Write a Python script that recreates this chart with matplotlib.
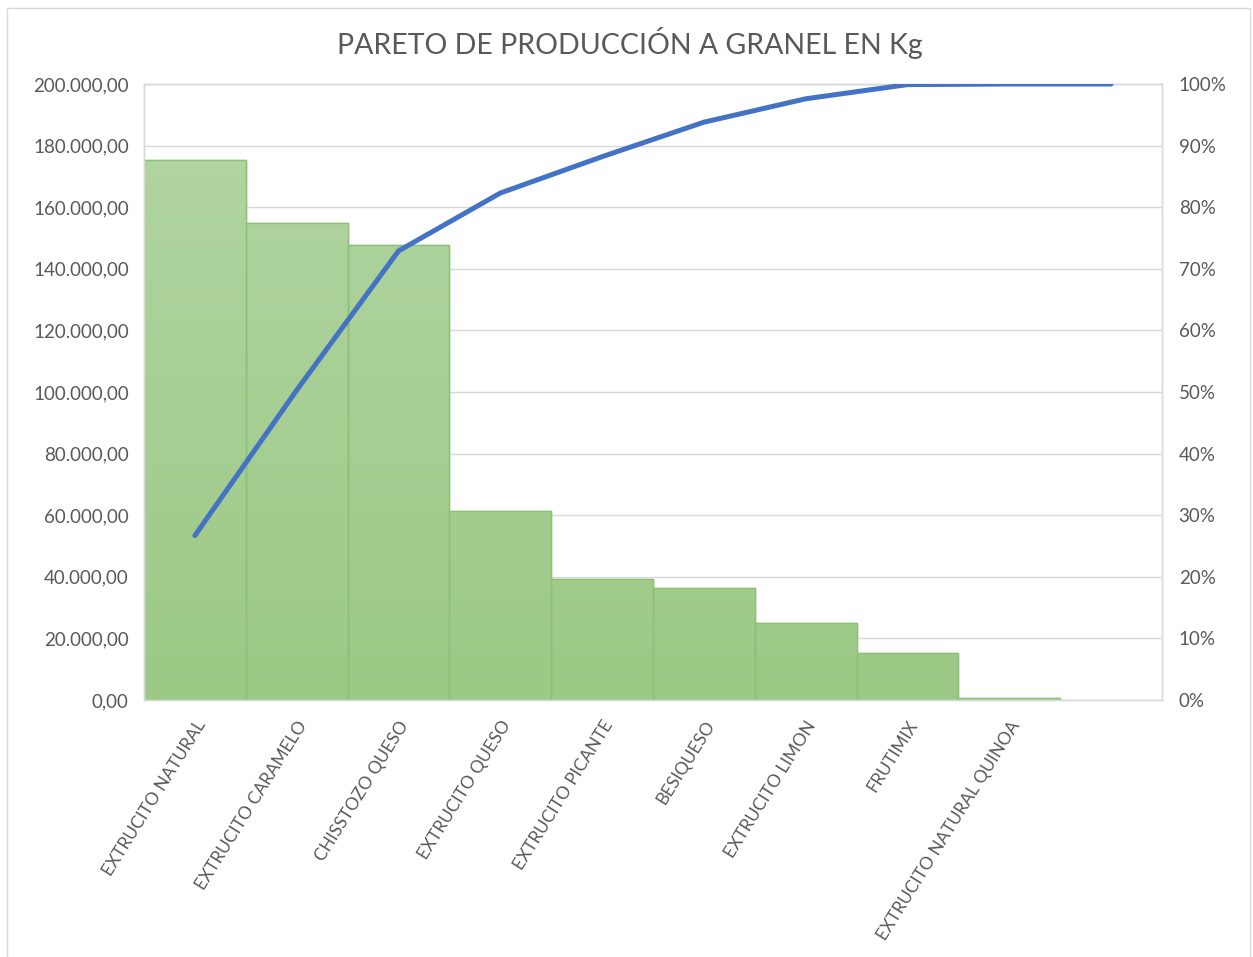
import numpy as np
import matplotlib
matplotlib.use("Agg")
import matplotlib.pyplot as plt
from matplotlib.patches import Rectangle
from matplotlib.ticker import FuncFormatter, MultipleLocator
from matplotlib.colors import LinearSegmentedColormap

categories = ["EXTRUCITO NATURAL", "EXTRUCITO CARAMELO", "CHISSTOZO QUESO",
              "EXTRUCITO QUESO", "EXTRUCITO PICANTE", "BESIQUESO",
              "EXTRUCITO LIMON", "FRUTIMIX", "EXTRUCITO NATURAL QUINOA", ""]
kg_values = [175300, 154900, 147700, 61400, 39300, 36400, 25000, 15300, 700]
cum_pct = [26.7, 50.3, 72.9, 82.3, 88.2, 93.8, 97.6, 99.9, 100.0, 100.0]

plt.rcParams['font.family'] = ['Lato', 'DejaVu Sans']
TXT = "#595959"
GRID = "#d9d9d9"

fig = plt.figure(figsize=(12.53, 9.57), dpi=100)
fig.patches.append(Rectangle((7/1253, -0.01), (1250-7)/1253, 1 - 8/957 + 0.01,
                             transform=fig.transFigure, fill=False,
                             edgecolor="#d9d9d9", lw=1.0))

ax = fig.add_axes([144/1253, 1 - 700/957, (1162-144)/1253, (700-84)/957])
ax2 = ax.twinx()
ax.set_zorder(1); ax2.set_zorder(2)
ax.patch.set_visible(False)

x = np.arange(len(categories))
bars = ax.bar(x[:len(kg_values)], kg_values, width=1.0, color="#a6cf91",
              edgecolor="#8dbf76", linewidth=1.0, zorder=2)

grad = np.linspace(0, 1, 256).reshape(-1, 1)
cmap = LinearSegmentedColormap.from_list("g", ["#9cc986", "#b3d6a4"])
for b in bars:
    im = ax.imshow(grad, extent=(-0.5, 9.5, 0, 200000), origin="lower",
                   aspect="auto", cmap=cmap, zorder=2.1)
    im.set_clip_path(b)
for b in bars:
    ax.add_patch(Rectangle(b.get_xy(), b.get_width(), b.get_height(),
                           fill=False, edgecolor="#8dbf76", lw=1.0, zorder=2.2))

ax.set_xlim(-0.5, 9.5)
ax.set_ylim(0, 200000)
ax.yaxis.set_major_locator(MultipleLocator(20000))
ax.yaxis.set_major_formatter(FuncFormatter(
    lambda v, p: f"{v:,.2f}".replace(",", "X").replace(".", ",").replace("X", ".")))
ax.grid(axis="y", color=GRID, lw=1.0, zorder=0)
ax.set_axisbelow(True)

ax2.plot(x, cum_pct, color="#4472c4", lw=3.6, solid_capstyle="round",
         solid_joinstyle="round", zorder=5)
ax2.set_ylim(0, 100)
ax2.yaxis.set_major_locator(MultipleLocator(10))
ax2.yaxis.set_major_formatter(FuncFormatter(lambda v, p: f"{v:.0f}%"))

for a in (ax, ax2):
    for s in a.spines.values():
        s.set_color(GRID)
        s.set_linewidth(1.0)
    a.tick_params(length=0, colors=TXT, labelsize=13.5)

ax.tick_params(axis="y", pad=11)
ax2.tick_params(axis="y", pad=12)

ax.set_xticks(x)
ax.set_xticklabels(categories, rotation=58, ha="right", va="top",
                   rotation_mode="anchor", fontsize=12.5, color=TXT)
ax.tick_params(axis="x", pad=13)

fig.text(630/1253, 1 - 43/957, "PARETO DE PRODUCCIÓN A GRANEL EN Kg",
         ha="center", va="center", fontsize=20.5, color=TXT)

fig.savefig("out.png", dpi=100)
